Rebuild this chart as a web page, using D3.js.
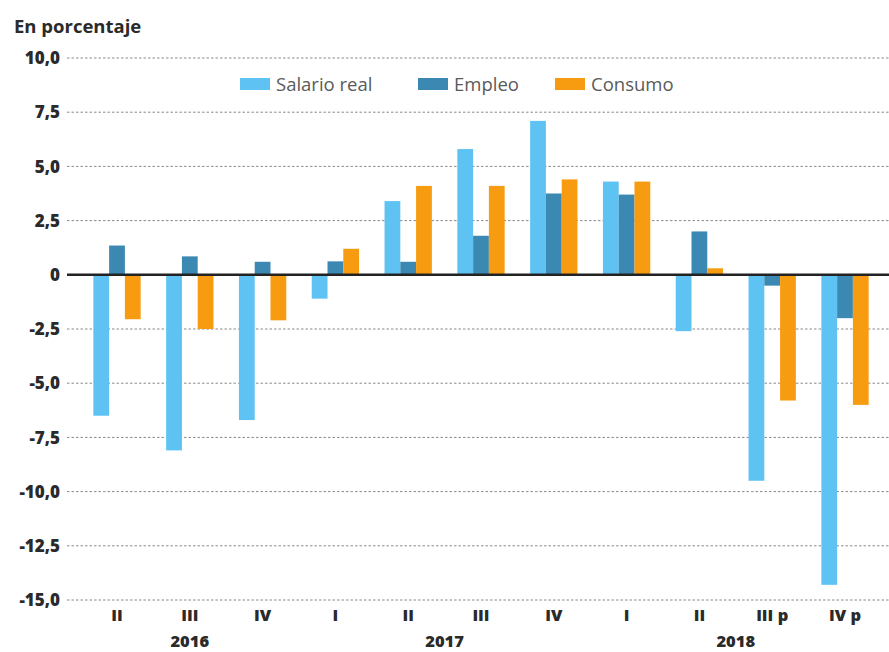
<!DOCTYPE html>
<html><head><meta charset="utf-8">
<script src="https://cdn.jsdelivr.net/npm/d3@7"></script>
<style>body{margin:0;background:#fff}svg{display:block}text{font-family:"Open Sans",Lato,sans-serif}</style>
</head><body>
<script>
const quarters = ["II","III","IV","I","II","III","IV","I","II","III p","IV p"];
const years = ["2016","2016","2016","2017","2017","2017","2017","2018","2018","2018","2018"];
const seriesNames = ["Salario real","Empleo","Consumo"];
const salarioReal = [-6.5,-8.1,-6.7,-1.1,3.4,5.8,7.1,4.3,-2.6,-9.5,-14.3];
const empleo = [1.35,0.85,0.6,0.62,0.6,1.8,3.75,3.7,2.0,-0.5,-2.0];
const consumo = [-2.05,-2.5,-2.1,1.2,4.1,4.1,4.4,4.3,0.3,-5.8,-6.0];
const yTicks = [10,7.5,5,2.5,0,-2.5,-5,-7.5,-10,-12.5,-15];
const colors = ["#5ec3f3","#3b89b3","#f79b10"];

const W=889,H=652;
const svg=d3.select("body").append("svg").attr("width",W).attr("height",H);
const ids=d3.range(quarters.length);
const x=d3.scaleBand().domain(ids).range([80.6,881.4]).paddingInner(0.35).paddingOuter(0.175);
const xs=d3.scaleBand().domain([0,1,2]).range([0,x.bandwidth()]);
const y=d3.scaleLinear().domain([-15,10]).range([600,58]);
const fmt=v=>v===0?"0":d3.format(".1f")(v).replace(".",",").replace("\u2212","-");

svg.append("text").attr("x",14).attr("y",33).attr("font-size",18.5).attr("font-weight",700).attr("fill","#2a2a2a").text("En porcentaje");

// grid
const g=svg.append("g");
g.selectAll("line.grid").data(yTicks.filter(t=>t!==0)).join("line")
 .attr("x1",67).attr("x2",W).attr("y1",d=>y(d)).attr("y2",d=>y(d))
 .attr("stroke","#8a8a8a").attr("stroke-width",1).attr("stroke-dasharray","2.5,2");
g.selectAll("text.yl").data(yTicks).join("text")
 .attr("x",60).attr("y",d=>y(d)).attr("dy","0.36em").attr("text-anchor","end")
 .attr("font-size",17).attr("font-weight",800).attr("fill","#2a2a2a").text(fmt);

// bars
const allSeries=[salarioReal,empleo,consumo];
allSeries.forEach((vals,si)=>{
  svg.append("g").selectAll("rect").data(vals).join("rect")
   .attr("x",(d,i)=>x(i)+xs(si)).attr("width",xs.bandwidth())
   .attr("y",d=>y(Math.max(0,d))).attr("height",d=>Math.abs(y(d)-y(0)))
   .attr("fill",colors[si]);
});
svg.append("line").attr("x1",67).attr("x2",W).attr("y1",y(0)).attr("y2",y(0)).attr("stroke","#222").attr("stroke-width",2.5);

// x labels
svg.selectAll("text.q").data(quarters).join("text")
 .attr("x",(d,i)=>x(i)+x.bandwidth()/2).attr("y",621).attr("text-anchor","middle")
 .attr("font-size",16.5).attr("font-weight",800).attr("fill","#2a2a2a").text(d=>d);
const yearGroups=d3.groups(ids,i=>years[i]);
svg.selectAll("text.yr").data(yearGroups).join("text")
 .attr("x",d=>d3.mean(d[1],i=>x(i)+x.bandwidth()/2)).attr("y",647).attr("text-anchor","middle")
 .attr("font-size",16.5).attr("font-weight",800).attr("fill","#2a2a2a").text(d=>d[0]);

// legend
const legX=[240,418,555];
const lg=svg.append("g");
seriesNames.forEach((n,i)=>{
  lg.append("rect").attr("x",legX[i]).attr("y",78).attr("width",30).attr("height",12).attr("fill",colors[i]);
  lg.append("text").attr("x",legX[i]+36).attr("y",84).attr("dy","0.36em").attr("font-size",18.5).attr("fill","#5a5a5a").text(n);
});
</script>
</body></html>
